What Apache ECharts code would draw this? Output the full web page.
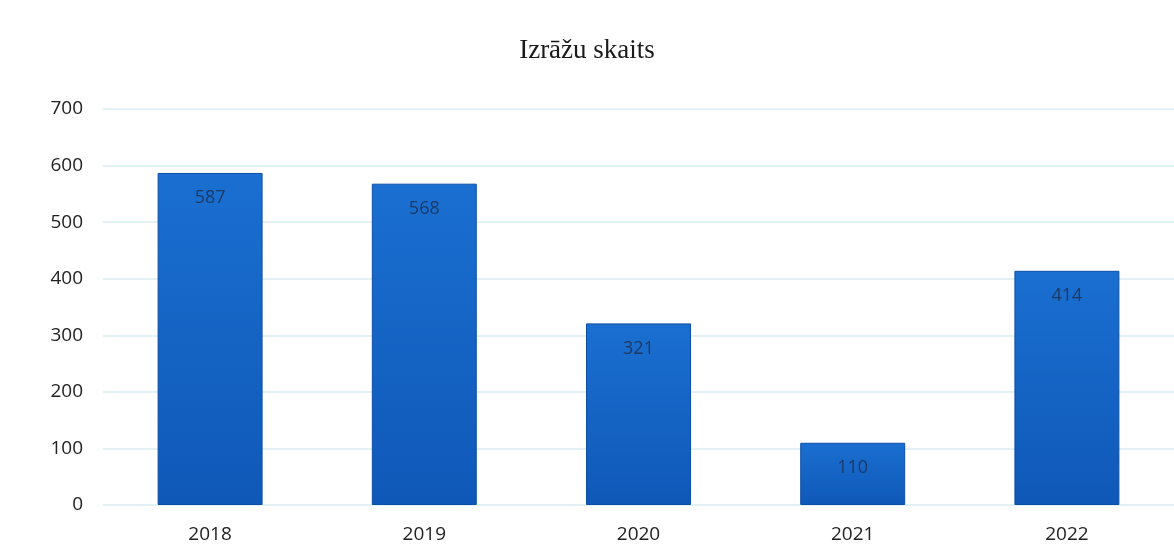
<!DOCTYPE html>
<html><head><meta charset="utf-8">
<script src="https://cdn.jsdelivr.net/npm/echarts@6/dist/echarts.min.js"></script>
<style>html,body{margin:0;padding:0;background:#fff}#c{width:1174px;height:544px}</style>
</head><body><div id="c"></div>
<script>
const categories = ['2018', '2019', '2020', '2021', '2022'];
const values = [587, 568, 321, 110, 414];
const title = 'Izrāžu skaits';
const chart = echarts.init(document.getElementById('c'));
chart.setOption({
  animation: false,
  title: { text: title, left: 'center', top: 32, textStyle: { fontFamily: 'Liberation Serif', fontWeight: 'normal', fontSize: 27, color: '#1a1a1a' } },
  grid: { left: 103, right: 0, top: 109, bottom: 39, containLabel: false },
  xAxis: { type: 'category', data: categories,
    axisLine: { show: false }, axisTick: { show: false },
    axisLabel: { fontFamily: 'Open Sans', fontSize: 19, color: '#222', margin: 20 } },
  yAxis: { type: 'value', min: 0, max: 700, interval: 100,
    axisLine: { show: false }, axisTick: { show: false },
    axisLabel: { fontFamily: 'Open Sans', fontSize: 19, color: '#222', margin: 20 },
    splitLine: { lineStyle: { color: '#d8ecef', width: 1.5 } } },
  series: [{ type: 'bar', data: values, barWidth: '49%',
    itemStyle: { color: new echarts.graphic.LinearGradient(0,0,0,1,[{offset:0,color:'#1a6fd0'},{offset:1,color:'#0f58b8'}]), borderColor: '#0c4ea6', borderWidth: 1 },
    label: { show: true, position: 'insideTop', distance: 16, fontFamily: 'Open Sans', fontSize: 18, color: '#1d3a66' } }]
});
</script></body></html>
